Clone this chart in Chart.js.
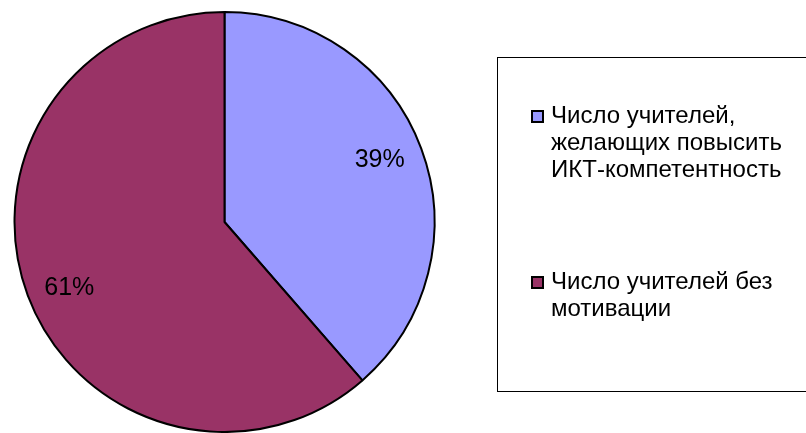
<!DOCTYPE html>
<html>
<head>
<meta charset="utf-8">
<script src="https://cdn.jsdelivr.net/npm/chart.js@4"></script>
<style>
  html, body { margin: 0; padding: 0; background: #fff; }
  #wrap { position: relative; width: 806px; height: 433px; }
</style>
</head>
<body>
<div id="wrap"><canvas id="pie-chart" width="806" height="433"></canvas></div>
<script>
const categories = [
    ['Число учителей,', 'желающих повысить', 'ИКТ-компетентность'],
    ['Число учителей без', 'мотивации']
];
// shares (labels round to 39% / 61%)
const values = [38.6, 61.4];
const colors = ['#9999FF', '#993366'];

const FONT = '"Liberation Sans", Arial, sans-serif';

// percent labels inside the slices
const pieLabels = {
    id: 'pieLabels',
    afterDatasetsDraw(chart) {
        const ctx = chart.ctx;
        const total = values.reduce((a, b) => a + b, 0);
        const meta = chart.getDatasetMeta(0);
        ctx.save();
        ctx.font = '25px ' + FONT;
        ctx.fillStyle = '#000';
        ctx.textAlign = 'center';
        ctx.textBaseline = 'middle';
        meta.data.forEach((arc, i) => {
            const mid = (arc.startAngle + arc.endAngle) / 2 - 0.035;
            const r = arc.outerRadius * 0.8;
            const x = arc.x + Math.cos(mid) * r;
            const y = arc.y + Math.sin(mid) * r;
            ctx.fillText(Math.round(values[i] / total * 100) + '%', x, y + 2);
        });
        ctx.restore();
    }
};

// legend box on the right, cut off by the right edge like the original
const boxLegend = {
    id: 'boxLegend',
    afterDraw(chart) {
        const ctx = chart.ctx;
        ctx.save();
        ctx.strokeStyle = '#000';
        ctx.lineWidth = 1;
        ctx.strokeRect(497.5, 57.5, 320, 334);
        ctx.font = '24px ' + FONT;
        ctx.textBaseline = 'alphabetic';
        ctx.textAlign = 'left';
        const firstLine = [123, 289];
        categories.forEach((lines, i) => {
            const y0 = firstLine[i];
            ctx.fillStyle = colors[i];
            ctx.fillRect(532, y0 - 12, 11, 11);
            ctx.lineWidth = 2;
            ctx.strokeRect(532, y0 - 12, 11, 11);
            ctx.fillStyle = '#000';
            lines.forEach((t, j) => {
                ctx.fillText(t, 551, y0 + j * 27);
            });
        });
        ctx.restore();
    }
};

new Chart(document.getElementById('pie-chart'), {
    type: 'pie',
    data: {
        labels: categories.map(l => l.join(' ')),
        datasets: [{
            data: values,
            backgroundColor: colors,
            borderColor: '#000',
            borderWidth: 2
        }]
    },
    options: {
        responsive: false,
        animation: false,
        layout: { padding: { left: 13, top: 11, right: 370, bottom: 0 } },
        plugins: {
            legend: { display: false },
            tooltip: { enabled: false }
        }
    },
    plugins: [pieLabels, boxLegend]
});
</script>
</body>
</html>
